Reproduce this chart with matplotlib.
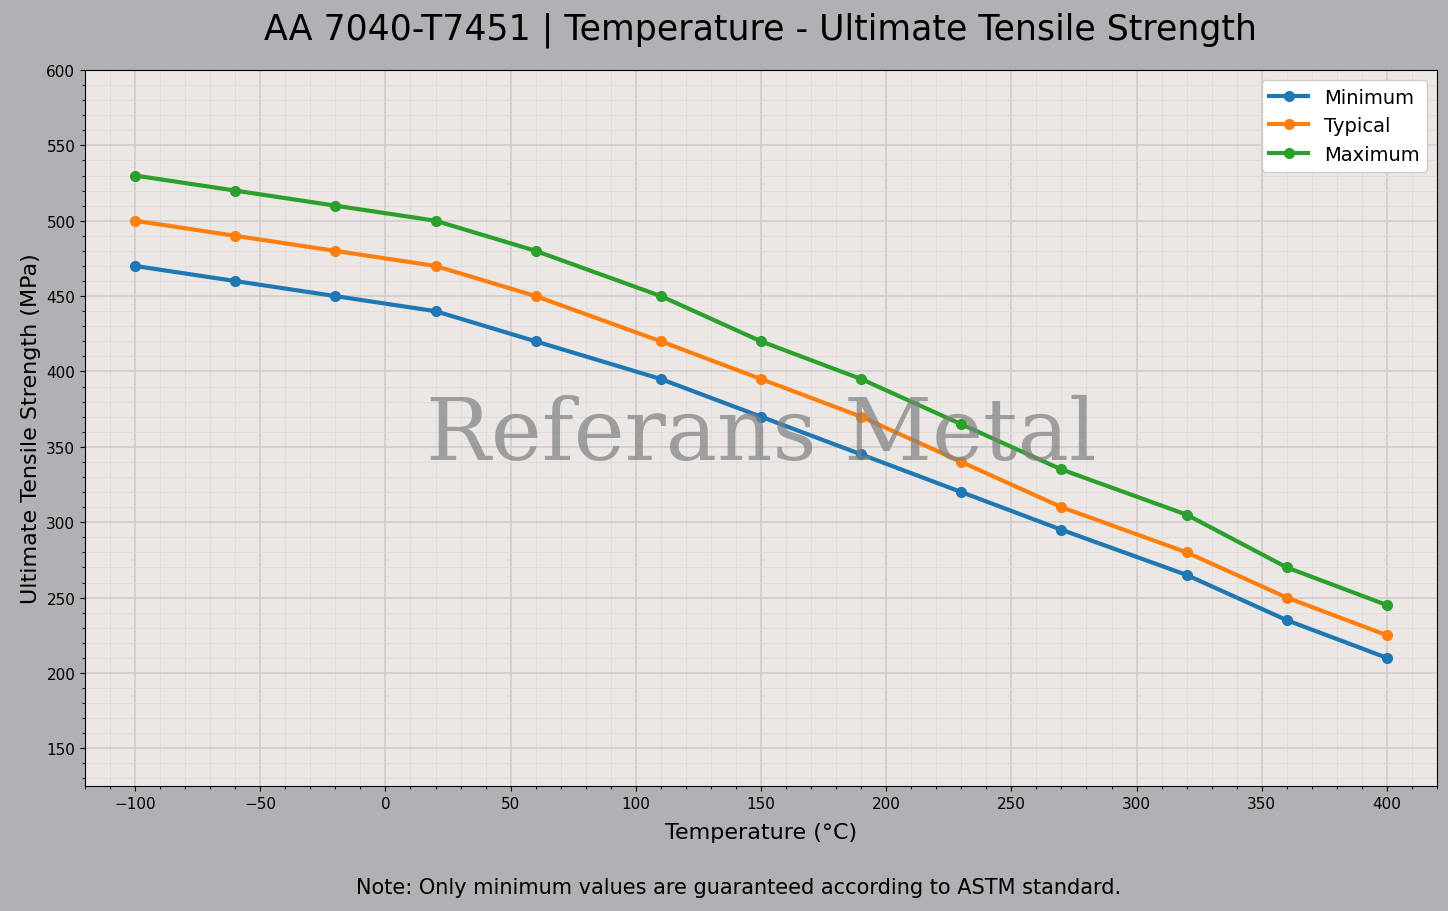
import matplotlib
matplotlib.use("Agg")
import matplotlib.pyplot as plt
from matplotlib.ticker import AutoMinorLocator, MultipleLocator

temps = [-100, -60, -20, 20, 60, 110, 150, 190, 230, 270, 320, 360, 400]
minimum = [470, 460, 450, 440, 420, 395, 370, 345, 320, 295, 265, 235, 210]
typical = [500, 490, 480, 470, 450, 420, 395, 370, 340, 310, 280, 250, 225]
maximum = [530, 520, 510, 500, 480, 450, 420, 395, 365, 335, 305, 270, 245]

fig = plt.figure(figsize=(14.48, 9.12), dpi=100, facecolor="#b1b0b5")
ax = fig.add_axes([85/1448, 1-787/912, (1437-85)/1448, (787-71)/912])
ax.set_facecolor("#eae7e5")
for vals, lab, c in [(minimum, "Minimum", "#1f77b4"), (typical, "Typical", "#ff7f0e"), (maximum, "Maximum", "#2ca02c")]:
    ax.plot(temps, vals, marker="o", lw=3, ms=7, color=c, label=lab)
ax.set_xlim(-120, 420)
ax.set_ylim(125, 600)
ax.set_yticks(range(150, 601, 50))
ax.xaxis.set_major_locator(MultipleLocator(50))
ax.xaxis.set_minor_locator(AutoMinorLocator(5))
ax.yaxis.set_minor_locator(AutoMinorLocator(5))
ax.grid(True, which="major", color="#cfcccb", lw=1.2)
ax.grid(True, which="minor", color="#dedbd9", lw=0.6)
ax.set_axisbelow(True)
ax.tick_params(labelsize=11)
ax.set_xlabel("Temperature (°C)", fontsize=16, labelpad=8)
ax.set_ylabel("Ultimate Tensile Strength (MPa)", fontsize=16)
ax.legend(loc="upper right", fontsize=14, framealpha=1)
ax.text(0.5, 0.49, "Referans Metal", transform=ax.transAxes, ha="center", va="center",
        fontsize=62, family="DejaVu Serif", color="gray", alpha=0.7, zorder=10)
fig.text(0.525, 0.967, "AA 7040-T7451 | Temperature - Ultimate Tensile Strength", ha="center", va="center", fontsize=25)
fig.text(0.51, 0.026, "Note: Only minimum values are guaranteed according to ASTM standard.", ha="center", va="center", fontsize=15)
fig.savefig("out.png", dpi=100, facecolor=fig.get_facecolor())
